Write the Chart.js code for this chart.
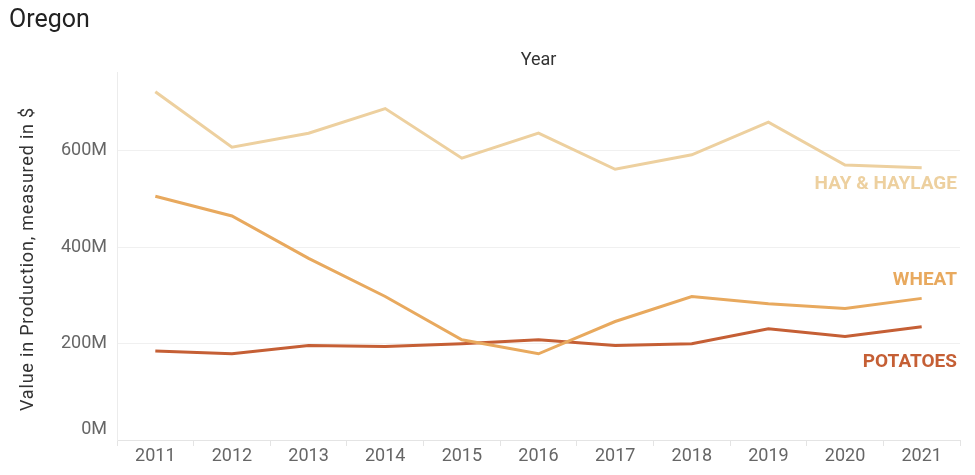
<!DOCTYPE html>
<html>
<head>
<meta charset="utf-8">
<script src="https://cdn.jsdelivr.net/npm/chart.js@4"></script>
<style>
  html, body { margin: 0; padding: 0; background: #fff; }
  #wrap { width: 975px; height: 475px; position: relative; }
</style>
</head>
<body>
<div id="wrap"><canvas id="chart"></canvas></div>
<script>
/* Oregon — value in production by crop, 2011-2021 (millions of $) */

var years     = ['2011','2012','2013','2014','2015','2016','2017','2018','2019','2020','2021'];
var hayValues    = [723, 608, 637, 688, 585, 637, 562, 592, 660, 571, 565];
var wheatValues  = [506, 465, 377, 298, 208, 179, 246, 298, 283, 273, 294];
var potatoValues = [185, 179, 196, 194, 200, 208, 196, 200, 231, 215, 235];
var yTicks = [0, 200, 400, 600];

var COLORS = { hay: '#EDD09F', wheat: '#E8A95E', potatoes: '#C55F35' };

// draws title, axis titles, y tick labels and the end-of-line labels
var annotations = {
  id: 'annotations',
  afterDraw: function(chart) {
    var ctx = chart.ctx, area = chart.chartArea, yScale = chart.scales.y;
    ctx.save();
    ctx.textBaseline = 'middle';

    ctx.fillStyle = '#222';
    ctx.font = '25px Roboto';
    ctx.textAlign = 'left';
    ctx.fillText('Oregon', 9, 21);

    ctx.fillStyle = '#333';
    ctx.font = '18px Roboto';
    ctx.textAlign = 'center';
    ctx.fillText('Year', (area.left + area.right) / 2, 60);

    // rotated y title
    ctx.save();
    ctx.translate(28, 259);
    ctx.rotate(-Math.PI / 2);
    ctx.letterSpacing = '0.8px';
    ctx.fillText('Value in Production, measured in $', 0, 0);
    ctx.restore();

    // y tick labels, bottom one kept inside the plot like the original
    ctx.fillStyle = '#666';
    ctx.textAlign = 'right';
    yTicks.forEach(function(v) {
      var y = Math.min(yScale.getPixelForValue(v), area.bottom - 11);
      ctx.fillText(v + 'M', area.left - 10, y);
    });

    var shift = [16, -18, 35];
    ctx.font = 'bold 19px Roboto';
    chart.data.datasets.forEach(function(ds, i) {
      var meta = chart.getDatasetMeta(i);
      var last = meta.data[meta.data.length - 1];
      ctx.fillStyle = ds.borderColor;
      ctx.fillText(ds.label, area.right - 3, last.y + shift[i]);
    });
    ctx.restore();
  }
};

new Chart(document.getElementById('chart'), {
  type: 'line',
  data: {
    labels: years,
    datasets: [
      { label: 'HAY & HAYLAGE', data: hayValues,    borderColor: COLORS.hay,      borderWidth: 3, pointRadius: 0, tension: 0 },
      { label: 'WHEAT',         data: wheatValues,  borderColor: COLORS.wheat,    borderWidth: 3, pointRadius: 0, tension: 0 },
      { label: 'POTATOES',      data: potatoValues, borderColor: COLORS.potatoes, borderWidth: 3, pointRadius: 0, tension: 0 }
    ]
  },
  options: {
    responsive: true, maintainAspectRatio: false, animation: false,
    layout: { padding: { top: 72, right: 15, left: 0, bottom: 0 } },
    plugins: { legend: { display: false }, tooltip: { enabled: false }, title: { display: false } },
    scales: {
      x: {
        type: 'category', offset: true,
        grid: { offset: true, drawOnChartArea: false, color: '#e4e4e4', tickLength: 6 },
        border: { color: '#e4e4e4' },
        ticks: { color: '#666', font: { family: 'Roboto', size: 18 }, padding: 0, maxRotation: 0 },
        afterFit: function(s) { s.height = 35; }
      },
      y: {
        min: 0, max: 764,
        afterBuildTicks: function(s) { s.ticks = yTicks.map(function(v) { return { value: v }; }); },
        grid: { color: '#f0f0f0', drawTicks: false },
        border: { color: '#ececec' },
        ticks: { display: false },
        afterFit: function(s) { s.width = 117; }
      }
    }
  },
  plugins: [annotations]
});
</script>
</body>
</html>
